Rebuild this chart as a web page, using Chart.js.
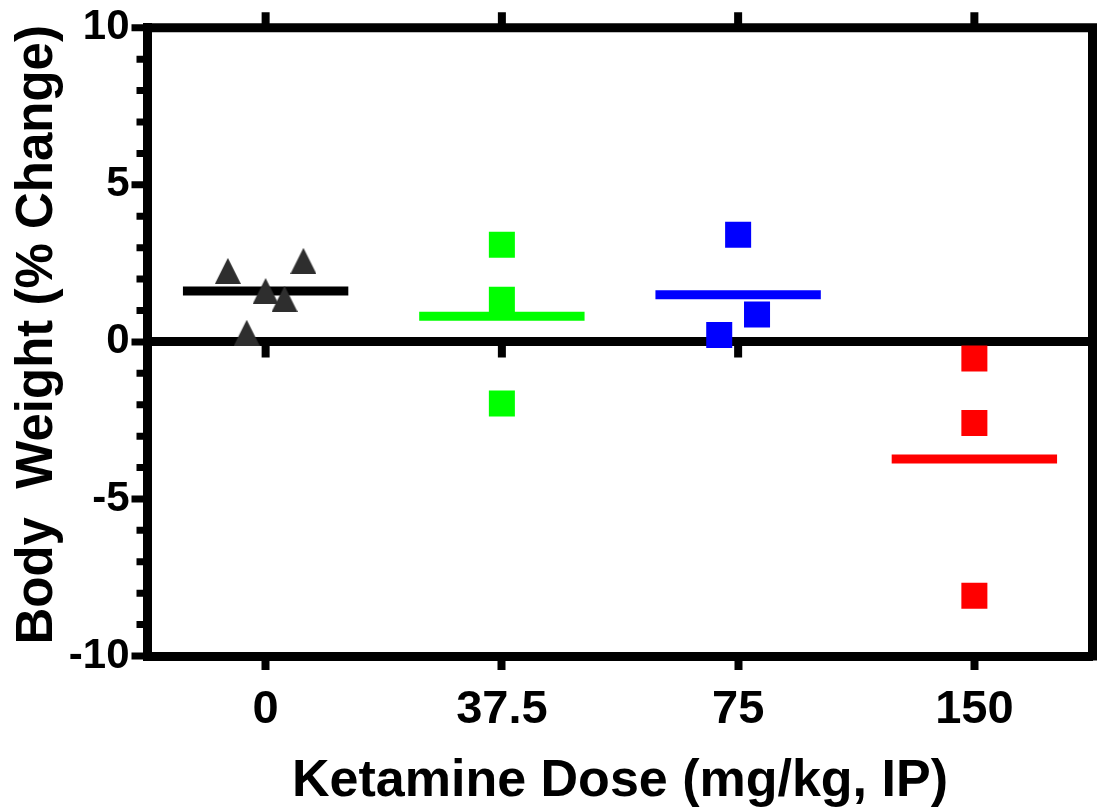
<!DOCTYPE html>
<html>
<head>
<meta charset="utf-8">
<script src="https://cdn.jsdelivr.net/npm/chart.js@4.4.1/dist/chart.umd.min.js"></script>
<style>
  html, body { margin: 0; padding: 0; background: #fff; overflow: hidden; }
  canvas { display: block; }
</style>
</head>
<body>
<canvas id="body-weight-by-ketamine-dose" width="1097" height="809"></canvas>
<script>
// x tick labels (ketamine dose, mg/kg IP)
const doseLabels = ['0', '37.5', '75', '150'];

// each animal: x = group position (+ scatter offset), y = % change in body weight
const dose0X = [-0.16, 0.16, 0, 0.08, -0.08];
const dose0Y = [2.26, 2.58, 1.62, 1.37, 0.29];
const dose37X = [1, 1, 1];
const dose37Y = [3.09, 1.34, -1.96];
const dose75X = [2, 2.08, 1.92];
const dose75Y = [3.41, 0.87, 0.22];
const dose150X = [3, 3, 3];
const dose150Y = [-0.53, -2.58, -8.08];

// group mean bars
const groupMeans = [1.62, 0.82, 1.50, -3.73];
const meanColors = ['#000000', '#00ff00', '#0000ff', '#ff0000'];

const FONT = "'Liberation Sans', Arial, sans-serif";

function triangleMarker(size, color) {
  const c = document.createElement('canvas');
  c.width = size; c.height = size;
  const g = c.getContext('2d');
  g.fillStyle = color;
  g.beginPath();
  g.moveTo(size / 2, 0);
  g.lineTo(size, size);
  g.lineTo(0, size);
  g.closePath();
  g.fill();
  return c;
}

const toPoints = (xs, ys) => xs.map((x, i) => ({ x: x, y: ys[i] }));

const pointSets = [
  { data: toPoints(dose0X, dose0Y), pointStyle: triangleMarker(26, '#2e2e2e'), color: '#2e2e2e' },
  { data: toPoints(dose37X, dose37Y), pointStyle: 'rect', color: '#00ff00' },
  { data: toPoints(dose75X, dose75Y), pointStyle: 'rect', color: '#0000ff' },
  { data: toPoints(dose150X, dose150Y), pointStyle: 'rect', color: '#ff0000' },
];

const datasets = [];
groupMeans.forEach((m, i) => {
  datasets.push({
    type: 'line',
    data: [{ x: i - 0.35, y: m }, { x: i + 0.35, y: m }],
    borderColor: meanColors[i],
    borderWidth: 9,
    borderCapStyle: 'butt',
    pointRadius: 0,
    order: 2
  });
});
pointSets.forEach(s => {
  datasets.push({
    type: 'scatter',
    data: s.data,
    pointStyle: s.pointStyle,
    pointRadius: 18.4,
    pointBackgroundColor: s.color,
    pointBorderWidth: 0,
    order: 1
  });
});

// ticks on the zero line and minor/major y ticks (under the markers)
const axisTicks = {
  id: 'axisTicks',
  beforeDatasetsDraw(chart) {
    const { ctx, chartArea: a, scales: { x, y } } = chart;
    ctx.save();
    ctx.strokeStyle = '#000';
    ctx.lineCap = 'butt';
    ctx.lineWidth = 8;
    ctx.beginPath();
    const y0 = y.getPixelForValue(0);
    doseLabels.forEach((_, i) => {
      const px = x.getPixelForValue(i);
      ctx.moveTo(px, y0);
      ctx.lineTo(px, y0 + 15.5);
    });
    ctx.stroke();

    ctx.lineWidth = 7;
    ctx.beginPath();
    for (let v = -10; v <= 10; v++) {
      const py = y.getPixelForValue(v);
      const len = v % 5 === 0 ? 16 : 11;
      ctx.moveTo(a.left, py);
      ctx.lineTo(a.left - len, py);
    }
    ctx.stroke();
    ctx.restore();
  }
};

// top/right frame with outward ticks on top
const frame = {
  id: 'frame',
  afterDraw(chart) {
    const { ctx, chartArea: a, scales: { x } } = chart;
    ctx.save();
    ctx.strokeStyle = '#000';
    ctx.lineCap = 'butt';
    ctx.lineWidth = 9;
    ctx.beginPath();
    ctx.moveTo(a.left - 4.5, a.top);
    ctx.lineTo(a.right + 4.5, a.top);
    ctx.moveTo(a.right, a.top);
    ctx.lineTo(a.right, a.bottom + 4.5);
    ctx.stroke();

    ctx.lineWidth = 8;
    ctx.beginPath();
    doseLabels.forEach((_, i) => {
      const px = x.getPixelForValue(i);
      ctx.moveTo(px, a.top - 15.5);
      ctx.lineTo(px, a.top);
    });
    ctx.stroke();
    ctx.restore();
  }
};

const noPadding = s => { s.paddingLeft = 0; s.paddingRight = 0; s.paddingTop = 0; s.paddingBottom = 0; };

new Chart(document.getElementById('body-weight-by-ketamine-dose'), {
  data: { datasets: datasets },
  plugins: [axisTicks, frame],
  options: {
    responsive: false,
    maintainAspectRatio: false,
    devicePixelRatio: 1,
    animation: false,
    layout: { autoPadding: false, padding: { top: 27.8, right: 4.5, left: 0, bottom: 0 } },
    plugins: { legend: { display: false }, tooltip: { enabled: false } },
    scales: {
      x: {
        type: 'linear',
        min: -0.5,
        max: 3.5,
        afterBuildTicks: s => { s.ticks = doseLabels.map((_, i) => ({ value: i })); },
        afterFit: s => { s.height = 153; noPadding(s); },
        ticks: {
          callback: v => doseLabels[v],
          color: '#000',
          padding: 12,
          maxRotation: 0,
          font: { family: FONT, size: 47, weight: 'bold' }
        },
        grid: { drawOnChartArea: false, tickLength: 14, tickWidth: 8, tickColor: '#000' },
        border: { color: '#000', width: 9 },
        title: {
          display: true,
          text: 'Ketamine Dose (mg/kg, IP)',
          color: '#000',
          padding: { top: 0, bottom: 1 },
          font: { family: FONT, size: 52, weight: 'bold', lineHeight: 1 }
        }
      },
      y: {
        type: 'linear',
        min: -10,
        max: 10,
        afterFit: s => { s.width = 147.5; noPadding(s); },
        ticks: {
          stepSize: 1,
          autoSkip: false,
          callback: v => (v % 5 === 0 ? String(v) : ''),
          color: '#000',
          padding: 2,
          font: { family: FONT, size: 42, weight: 'bold' }
        },
        grid: {
          color: c => (c.tick && c.tick.value === 0 ? '#000' : 'rgba(0,0,0,0)'),
          lineWidth: 9,
          tickLength: 16,
          tickColor: 'rgba(0,0,0,0)'
        },
        border: { color: '#000', width: 9 },
        title: {
          display: true,
          text: ' Body  Weight (% Change)',
          color: '#000',
          padding: { top: 12, bottom: 0 },
          font: { family: FONT, size: 51, weight: 'bold', lineHeight: 1 }
        }
      }
    }
  }
});
</script>
</body>
</html>
